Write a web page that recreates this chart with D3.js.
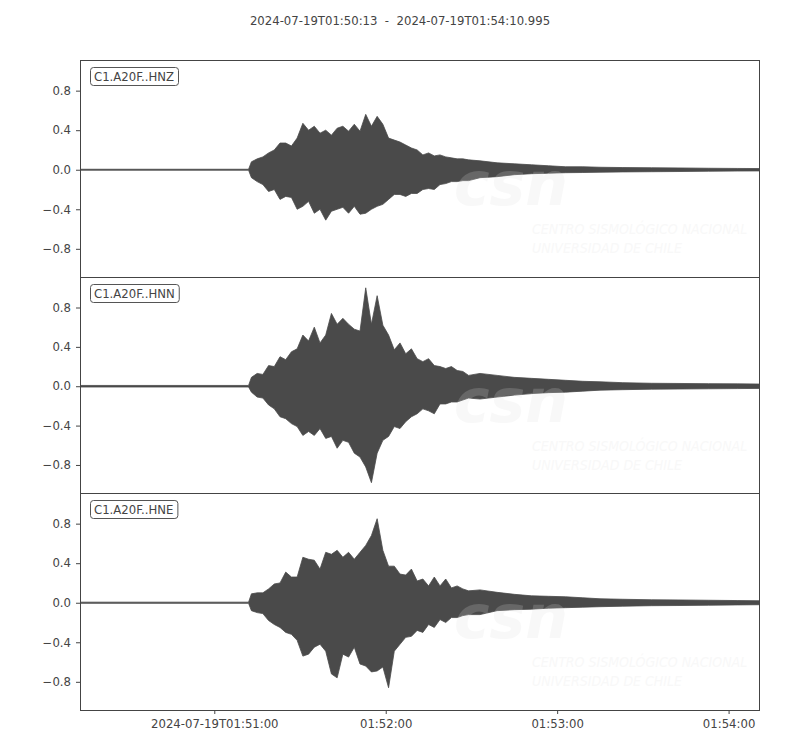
<!DOCTYPE html>
<html lang="en">
<head>
    <meta charset="UTF-8">
    <title>C1.A20F waveforms</title>
    <script src="https://d3js.org/d3.v7.min.js"></script>
    <style>
        body { margin: 0; background: #fff; }
        svg text { font-family: "DejaVu Sans", sans-serif; fill: #444; }
    </style>
</head>
<body>
    <div id="chart"></div>

    <script>
        // seconds after 2024-07-19T01:50:13
        const times = [0, 59,
            60, 62, 64, 66, 68, 70, 72, 74, 76, 78, 80, 82, 84, 86, 88, 90, 92, 94, 96, 98,
            100, 102, 104, 106, 108, 110, 112, 114, 116, 118, 120, 122, 124, 126, 128, 130, 132, 134, 136,
            140, 146, 152, 158, 164, 170, 176, 182, 190, 200, 210, 220, 230, 238];

        const channels = ["C1.A20F..HNZ", "C1.A20F..HNN", "C1.A20F..HNE"];

        // upper / lower envelope of each trace (normalised amplitude)
        const hnzUpper = [0.005, 0.005,
            0.08, 0.11, 0.13, 0.17, 0.20, 0.27, 0.27, 0.24, 0.32, 0.47, 0.40, 0.44, 0.37, 0.40, 0.35, 0.42, 0.44, 0.39, 0.46, 0.39,
            0.56, 0.44, 0.54, 0.46, 0.32, 0.30, 0.28, 0.25, 0.22, 0.20, 0.15, 0.17, 0.14, 0.15, 0.13, 0.12, 0.11, 0.11, 0.10,
            0.09, 0.07, 0.06, 0.05, 0.04, 0.03, 0.03, 0.025, 0.022, 0.02, 0.018, 0.015, 0.013, 0.012];
        const hnzLower = [-0.005, -0.005,
            -0.08, -0.12, -0.15, -0.22, -0.20, -0.30, -0.27, -0.28, -0.40, -0.37, -0.32, -0.44, -0.40, -0.51, -0.42, -0.40, -0.38, -0.44, -0.37, -0.45,
            -0.44, -0.40, -0.37, -0.35, -0.30, -0.25, -0.25, -0.27, -0.24, -0.24, -0.20, -0.19, -0.20, -0.15, -0.14, -0.12, -0.12, -0.11, -0.11,
            -0.08, -0.07, -0.05, -0.04, -0.035, -0.03, -0.028, -0.025, -0.022, -0.02, -0.018, -0.015, -0.013, -0.012];

        const hnnUpper = [0.008, 0.008,
            0.09, 0.13, 0.12, 0.21, 0.20, 0.30, 0.27, 0.35, 0.38, 0.52, 0.46, 0.60, 0.44, 0.52, 0.74, 0.63, 0.69, 0.63, 0.58, 0.56,
            1.00, 0.63, 0.92, 0.62, 0.52, 0.37, 0.44, 0.33, 0.38, 0.28, 0.25, 0.28, 0.21, 0.20, 0.18, 0.20, 0.16, 0.15, 0.11,
            0.13, 0.11, 0.09, 0.08, 0.07, 0.06, 0.05, 0.045, 0.036, 0.03, 0.028, 0.026, 0.024, 0.022];
        const hnnLower = [-0.008, -0.008,
            -0.06, -0.11, -0.12, -0.19, -0.23, -0.31, -0.33, -0.38, -0.41, -0.50, -0.46, -0.50, -0.43, -0.53, -0.51, -0.63, -0.55, -0.57, -0.68, -0.72,
            -0.82, -0.98, -0.68, -0.55, -0.51, -0.41, -0.43, -0.36, -0.31, -0.28, -0.23, -0.25, -0.28, -0.18, -0.18, -0.16, -0.16, -0.14, -0.12,
            -0.13, -0.11, -0.09, -0.075, -0.065, -0.06, -0.05, -0.04, -0.035, -0.03, -0.028, -0.026, -0.024, -0.022];

        const hneUpper = [0.006, 0.006,
            0.09, 0.10, 0.10, 0.14, 0.19, 0.20, 0.31, 0.26, 0.26, 0.46, 0.44, 0.43, 0.34, 0.51, 0.49, 0.53, 0.46, 0.51, 0.44, 0.51,
            0.58, 0.68, 0.85, 0.53, 0.37, 0.37, 0.29, 0.28, 0.34, 0.22, 0.24, 0.17, 0.26, 0.17, 0.24, 0.15, 0.17, 0.14, 0.12,
            0.13, 0.105, 0.085, 0.07, 0.065, 0.06, 0.05, 0.04, 0.035, 0.03, 0.028, 0.025, 0.022, 0.02];
        const hneLower = [-0.006, -0.006,
            -0.08, -0.10, -0.11, -0.18, -0.22, -0.25, -0.30, -0.32, -0.38, -0.54, -0.52, -0.45, -0.42, -0.49, -0.72, -0.76, -0.52, -0.55, -0.45, -0.62,
            -0.64, -0.70, -0.69, -0.65, -0.86, -0.49, -0.42, -0.35, -0.34, -0.28, -0.30, -0.22, -0.25, -0.17, -0.20, -0.15, -0.15, -0.13, -0.12,
            -0.12, -0.08, -0.07, -0.065, -0.055, -0.05, -0.045, -0.04, -0.035, -0.03, -0.028, -0.025, -0.022, -0.02];

        const yTicks = [0.8, 0.4, 0.0, -0.4, -0.8];
        const xTickTimes = ["2024-07-19T01:51:00", "2024-07-19T01:52:00", "2024-07-19T01:53:00", "2024-07-19T01:54:00"];
        const xTickLabels = ["2024-07-19T01:51:00", "01:52:00", "01:53:00", "01:54:00"];
        const title = "2024-07-19T01:50:13  -  2024-07-19T01:54:10.995";

        const traces = [
            { upper: hnzUpper, lower: hnzLower },
            { upper: hnnUpper, lower: hnnLower },
            { upper: hneUpper, lower: hneLower }
        ];

        const width = 800, height = 750;
        const margin = { top: 60, right: 40, bottom: 40, left: 80 };
        const panelTops = [60, 277, 493, 710];
        const plotW = width - margin.left - margin.right;

        const t0 = new Date(Date.UTC(2024, 6, 19, 1, 50, 13));
        const t1 = new Date(t0.getTime() + 237995);
        const toDate = s => new Date(t0.getTime() + s * 1000);
        const parseIso = d3.utcParse("%Y-%m-%dT%H:%M:%S");

        const x = d3.scaleUtc()
            .domain([t0, t1])
            .range([margin.left, width - margin.right]);

        const svg = d3.select("#chart").append("svg")
            .attr("width", width)
            .attr("height", height);

        svg.append("text")
            .attr("x", width / 2)
            .attr("y", 25)
            .attr("text-anchor", "middle")
            .style("font-size", "11.7px")
            .style("white-space", "pre")
            .text(title);

        traces.forEach((tr, i) => {
            const top = panelTops[i];
            const bottom = panelTops[i + 1];
            const y = d3.scaleLinear()
                .domain([-1.085, 1.11])
                .range([bottom, top]);

            const g = svg.append("g");

            const clipId = `clip-${i}`;
            g.append("clipPath").attr("id", clipId)
                .append("rect")
                .attr("x", margin.left).attr("y", top)
                .attr("width", plotW)
                .attr("height", bottom - top);

            const pts = times.map((s, k) => ({ t: toDate(s), hi: tr.upper[k], lo: tr.lower[k] }));

            const area = d3.area()
                .x(d => x(d.t))
                .y0(d => y(d.lo))
                .y1(d => y(d.hi));

            g.append("path")
                .datum(pts)
                .attr("clip-path", `url(#${clipId})`)
                .attr("fill", "#4a4a4a")
                .attr("stroke", "#4a4a4a")
                .attr("stroke-width", 0.8)
                .attr("d", area);

            // faint CSN watermark
            const wm = g.append("g").attr("opacity", 0.2).style("pointer-events", "none");
            wm.append("text")
                .attr("x", 454).attr("y", top + 145)
                .style("font-size", "60px").style("font-weight", "bold").style("font-style", "italic")
                .style("fill", "#dddddd")
                .text("csn");
            wm.append("text")
                .attr("x", 532).attr("y", top + 174)
                .style("font-family", "DejaVu Sans Condensed, sans-serif")
                .style("font-size", "14px").style("font-style", "italic")
                .style("fill", "#dddddd")
                .text("CENTRO SISMOLÓGICO NACIONAL");
            wm.append("text")
                .attr("x", 532).attr("y", top + 193)
                .style("font-family", "DejaVu Sans Condensed, sans-serif")
                .style("font-size", "14px").style("font-style", "italic")
                .style("fill", "#dddddd")
                .text("UNIVERSIDAD DE CHILE");

            // y axis
            const yAxis = d3.axisLeft(y)
                .tickValues(yTicks)
                .tickSize(4)
                .tickPadding(5)
                .tickFormat(d => d3.format(".1f")(d).replace("-", "\u2212"));
            const ya = g.append("g")
                .attr("transform", `translate(${margin.left},0)`)
                .call(yAxis);
            ya.select(".domain").remove();
            ya.selectAll("line").attr("stroke", "#444");
            ya.selectAll("text").style("font-size", "11.7px").style("fill", "#444")
                .style("font-family", "DejaVu Sans, sans-serif");

            // station label
            const lbl = g.append("g");
            const lt = lbl.append("text")
                .attr("x", margin.left + 14)
                .attr("y", top + 21)
                .style("font-size", "11.7px")
                .text(channels[i]);
            const bb = lt.node().getBBox();
            lbl.insert("rect", "text")
                .attr("x", bb.x - 3.5).attr("y", top + 7.5)
                .attr("width", bb.width + 8).attr("height", 18)
                .attr("rx", 3).attr("ry", 3)
                .attr("fill", "#fff")
                .attr("stroke", "#555")
                .attr("stroke-width", 1);

            if (i === traces.length - 1) {
                const xAxis = d3.axisBottom(x)
                    .tickValues(xTickTimes.map(parseIso))
                    .tickSize(4)
                    .tickPadding(6)
                    .tickFormat((d, k) => xTickLabels[k]);
                const xa = g.append("g")
                    .attr("transform", `translate(0,${bottom})`)
                    .call(xAxis);
                xa.select(".domain").remove();
                xa.selectAll("line").attr("stroke", "#444");
                xa.selectAll("text").style("font-size", "11.7px").style("fill", "#444")
                    .style("font-family", "DejaVu Sans, sans-serif");
            }
        });

        // frame and panel separators
        svg.append("rect")
            .attr("x", margin.left + 0.5).attr("y", panelTops[0] + 0.5)
            .attr("width", plotW - 1)
            .attr("height", panelTops[3] - panelTops[0])
            .attr("fill", "none")
            .attr("stroke", "#444");
        svg.selectAll(".sep")
            .data(panelTops.slice(1, 3))
            .join("line")
            .attr("class", "sep")
            .attr("x1", margin.left).attr("x2", width - margin.right)
            .attr("y1", d => d + 0.5).attr("y2", d => d + 0.5)
            .attr("stroke", "#444");
    </script>
</body>
</html>
